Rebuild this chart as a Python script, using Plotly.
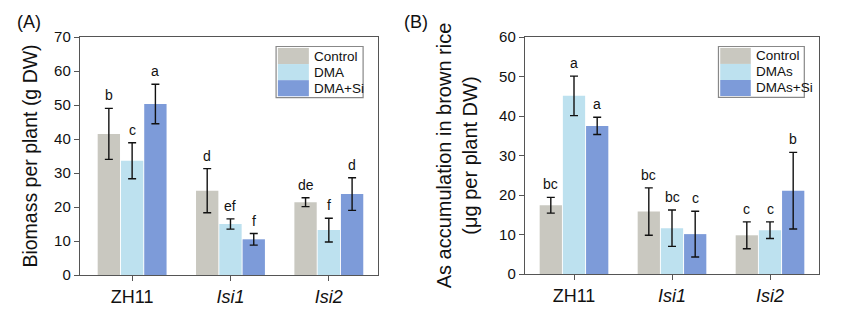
import plotly.graph_objects as go

W, H = 865, 328

categories = ["ZH11", "<i>Isi1</i>", "<i>Isi2</i>"]

# Panel A: biomass per plant (g DW)
a_names = ["Control", "DMA", "DMA+Si"]
a_control = [41.5, 24.8, 21.4]
a_control_err = [7.5, 6.5, 1.3]
a_dma = [33.6, 15.0, 13.2]
a_dma_err = [5.3, 1.5, 3.5]
a_dmasi = [50.3, 10.5, 23.8]
a_dmasi_err = [5.8, 1.7, 4.8]
a_letters = [["b", "d", "de"], ["c", "ef", "f"], ["a", "f", "d"]]
a_yticks = [0, 10, 20, 30, 40, 50, 60, 70]

# Panel B: As accumulation in brown rice (ug per plant DW)
b_names = ["Control", "DMAs", "DMAs+Si"]
b_control = [17.4, 15.8, 9.8]
b_control_err = [2.0, 6.0, 3.4]
b_dmas = [45.1, 11.6, 11.1]
b_dmas_err = [5.0, 4.6, 2.1]
b_dmassi = [37.5, 10.1, 21.1]
b_dmassi_err = [2.2, 5.8, 9.7]
b_letters = [["bc", "bc", "c"], ["a", "bc", "c"], ["a", "c", "b"]]
b_yticks = [0, 10, 20, 30, 40, 50, 60]

colors = ["#c9c8c0", "#bde1ef", "#7d9bd9"]
FONT = "Liberation Sans, Arial, sans-serif"

bargap = 0.29
slot = (1 - bargap) / 3

fig = go.Figure()

panels = [
    dict(xa="x", ya="y", names=a_names,
         vals=[a_control, a_dma, a_dmasi],
         errs=[a_control_err, a_dma_err, a_dmasi_err],
         letters=a_letters),
    dict(xa="x2", ya="y2", names=b_names,
         vals=[b_control, b_dmas, b_dmassi],
         errs=[b_control_err, b_dmas_err, b_dmassi_err],
         letters=b_letters),
]

xs = list(range(len(categories)))
annotations = []
shapes = []
for p in panels:
    for j in range(3):
        fig.add_trace(go.Bar(
            x=xs, y=p["vals"][j], name=p["names"][j],
            xaxis=p["xa"], yaxis=p["ya"],
            marker=dict(color=colors[j], line=dict(width=0)),
            offsetgroup=str(j),
            error_y=dict(type="data", array=p["errs"][j], color="#111111",
                         thickness=1.4, width=4),
            showlegend=False,
        ))
        for i in xs:
            annotations.append(dict(
                x=i + (j - 1) * slot, y=p["vals"][j][i] + p["errs"][j][i],
                xref=p["xa"], yref=p["ya"], text=p["letters"][j][i],
                showarrow=False, yanchor="bottom", yshift=3,
                font=dict(size=14, color="#111111", family=FONT),
            ))

    # custom legend box with large swatches
    xd = p["xa"] + " domain"
    yd = p["ya"] + " domain"
    lx0, lx1 = 0.658, 0.95
    ly1, ly0 = 0.96, 0.745
    shapes.append(dict(type="rect", xref=xd, yref=yd, x0=lx0, x1=lx1, y0=ly0, y1=ly1,
                       line=dict(color="#888888", width=1.2), fillcolor="white", layer="above"))
    rh = (ly1 - ly0 - 0.012) / 3
    for j in range(3):
        top = ly1 - 0.006 - j * rh
        shapes.append(dict(type="rect", xref=xd, yref=yd, x0=lx0 + 0.006, x1=lx0 + 0.11,
                           y0=top - rh, y1=top, line=dict(width=0),
                           fillcolor=colors[j], layer="above"))
        annotations.append(dict(x=lx0 + 0.12, y=top - rh / 2, xref=xd, yref=yd,
                                text=p["names"][j], showarrow=False,
                                xanchor="left", yanchor="middle",
                                font=dict(size=13.5, color="#111111", family=FONT)))

annotations.append(dict(x=29 / W, y=1 - 22 / H, xref="paper", yref="paper", text="(A)",
                        xanchor="center", yanchor="middle",
                        showarrow=False, font=dict(size=18, color="#111111", family=FONT)))
annotations.append(dict(x=416 / W, y=1 - 22 / H, xref="paper", yref="paper", text="(B)",
                        xanchor="center", yanchor="middle",
                        showarrow=False, font=dict(size=18, color="#111111", family=FONT)))

axis_common = dict(showline=True, linecolor="#555555", linewidth=1.4, mirror=True,
                   ticks="outside", tickcolor="#555555", ticklen=5, tickwidth=1.3,
                   showgrid=False, zeroline=False, automargin=False)

fig.update_layout(
    width=W, height=H,
    margin=dict(l=0, r=0, t=0, b=0),
    paper_bgcolor="white", plot_bgcolor="white",
    barmode="group", bargap=bargap, bargroupgap=0.04,
    font=dict(family=FONT, color="#111111"),
    xaxis=dict(domain=[80 / W, 378 / W], range=[-0.53, 2.5], tickvals=xs, ticktext=categories,
               tickfont=dict(size=18), anchor="y", **axis_common),
    yaxis=dict(domain=[1 - 275 / H, 1 - 37 / H], range=[0, 70], tickvals=a_yticks,
               tickfont=dict(size=15), anchor="x",
               title=dict(text="Biomass per plant (g DW)", font=dict(size=19.5), standoff=11),
               **axis_common),
    xaxis2=dict(domain=[525 / W, 819 / W], range=[-0.5, 2.5], tickvals=xs, ticktext=categories,
                tickfont=dict(size=18), anchor="y2", **axis_common),
    yaxis2=dict(domain=[1 - 274 / H, 1 - 37 / H], range=[0, 60], tickvals=b_yticks,
                tickfont=dict(size=15), anchor="x2",
                title=dict(text="As accumulation in brown rice<br>(μg per plant DW)",
                           font=dict(size=20), standoff=16),
                **axis_common),
    annotations=annotations,
    shapes=shapes,
)

fig.write_html("out.html")
